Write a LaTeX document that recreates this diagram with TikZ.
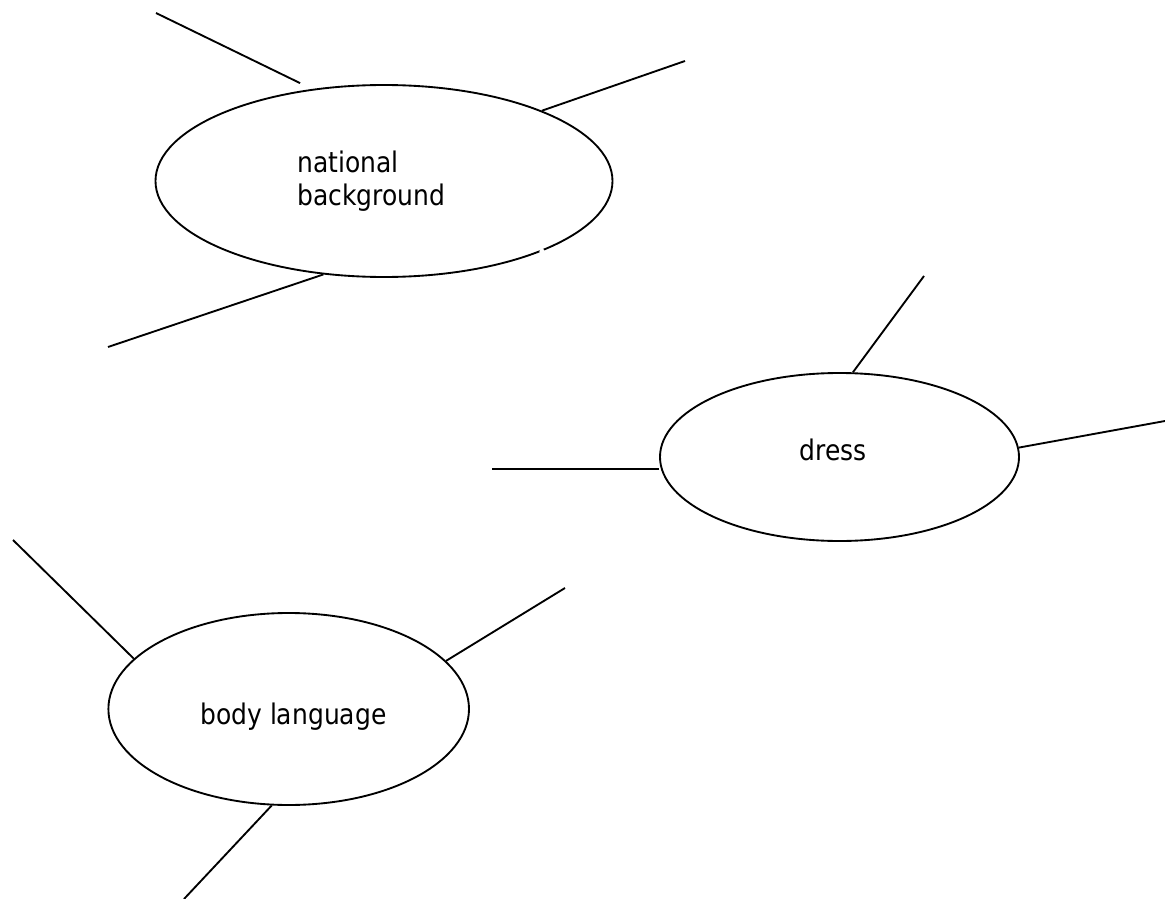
\documentclass[tikz,border=0pt]{standalone}
\usepackage{fontspec}
\setmainfont{DejaVu Sans}[FakeStretch=0.88]
\usetikzlibrary{shapes.geometric}

\tikzset{
  bubble/.style={draw, ellipse, inner sep=0pt, line width=1.4pt},
  spoke/.style={draw, line width=1.4pt},
  lbl/.style={anchor=base west, inner sep=0pt, align=left,
              font=\fontsize{21.3pt}{24.75pt}\selectfont},
}

\begin{document}
\begin{tikzpicture}[x=0.75pt, y=-0.75pt]
  \useasboundingbox (0,0) rectangle (1165,899);
  \fill[white] (0,0) rectangle (1165,899);

  % bubbles
  \node[bubble, minimum width=457*0.75pt, minimum height=192*0.75pt] (nb) at (384,181) {};
  \node[bubble, minimum width=359*0.75pt, minimum height=168*0.75pt] (dr) at (839.5,457) {};
  \node[bubble, minimum width=360.6*0.75pt, minimum height=192*0.75pt] (bl) at (288.7,709) {};

  % small break in the outline of the first bubble
  \fill[white] (nb.-24.9) circle[radius=2.6];

  % labels (base anchor sits on the last line)
  \node[lbl] (nbtext) at (297,205) {national\\background};
  \node[lbl] (drtext) at (799.5,460) {dress};
  \node[lbl] (bltext) at (200,724) {body language};

  % free ends of the spokes
  \coordinate (nb1) at (156,13);
  \coordinate (nb2) at (685,61);
  \coordinate (nb3) at (108,347);
  \coordinate (dr1) at (924,276);
  \coordinate (dr2) at (492,469);
  \coordinate (dr3) at (1165,421);
  \coordinate (bl1) at (13,540);
  \coordinate (bl2) at (565,588);
  \coordinate (bl3) at (184,899);

  % spokes
  \draw[spoke, shorten >=10] (nb1) -- (nb.128.7);
  \draw[spoke] (nb.24.7) -- (nb2);
  \draw[spoke] (nb.237.5) -- (nb3);

  \draw[spoke] (dr.81) -- (dr1);
  \draw[spoke] (dr.west |- dr2) -- (dr2);
  \draw[spoke] (dr.3.9) -- (dr3);

  \draw[spoke] (bl.162.9) -- (bl1);
  \draw[spoke] (bl.17.4) -- (bl2);
  \draw[spoke] (bl.260.7) -- (bl3);
\end{tikzpicture}
\end{document}
